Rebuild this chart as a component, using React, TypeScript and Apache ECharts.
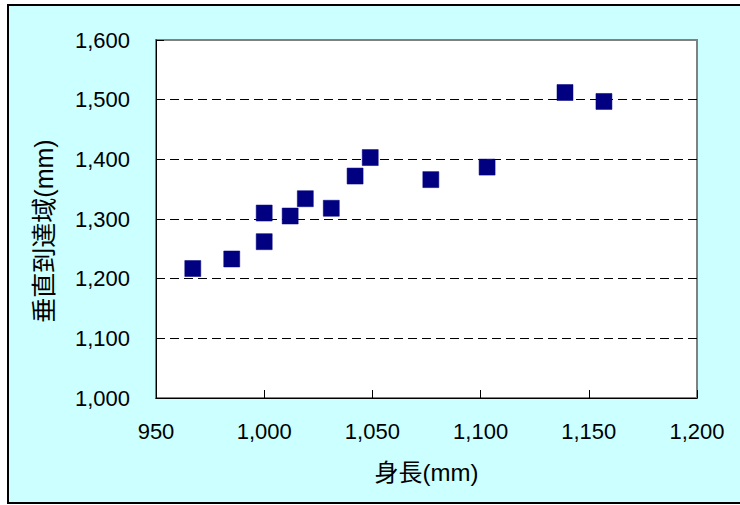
import React, { useEffect, useRef } from "react";
import * as echarts from "echarts";

const heights = [967, 985, 1000, 1000, 1012, 1019, 1031, 1042, 1049, 1077, 1103, 1139, 1157];
const reaches = [1217, 1233, 1310, 1262, 1305, 1334, 1318, 1372, 1403, 1366, 1387, 1512, 1497];
const xName = "身長(mm)";
const yName = "垂直到達域(mm)";

const FONT = "'Liberation Sans', Arial, 'Noto Sans CJK JP', sans-serif";

export default function App() {
  const ref = useRef<HTMLDivElement>(null);
  useEffect(() => {
    if (!ref.current) return;
    const chart = echarts.init(ref.current, undefined, { renderer: "svg" });
    const data = heights.map((h, i) => [h, reaches[i]]);
    const fmt = (v: number) => v.toLocaleString("en-US");
    chart.setOption({
      animation: false,
      graphic: [
        {
          type: "rect",
          z: -100,
          shape: { x: 8, y: 5, width: 740, height: 498 },
          style: { fill: "#CCFFFF", stroke: "#000000", lineWidth: 2 },
          silent: true,
        },
        {
          type: "text",
          x: 44,
          y: 231,
          rotation: Math.PI / 2,
          style: {
            text: yName,
            fill: "#000000",
            font: `25px ${FONT}`,
            align: "center",
            verticalAlign: "middle",
          },
          silent: true,
        },
      ],
      grid: {
        left: 156,
        right: 43,
        top: 40,
        bottom: 107,
        show: true,
        backgroundColor: "#FFFFFF",
        borderColor: "#808080",
        borderWidth: 2,
        containLabel: false,
        outerBoundsMode: "none",
      },
      xAxis: {
        type: "value",
        min: 950,
        max: 1200,
        interval: 50,
        name: xName,
        nameLocation: "middle",
        nameGap: 62,
        nameTextStyle: { fontSize: 24, color: "#000", fontFamily: FONT },
        axisLine: { show: true, lineStyle: { color: "#000", width: 1 } },
        axisTick: { show: true, inside: true, length: 8, lineStyle: { color: "#000" } },
        axisLabel: { margin: 22, fontSize: 22, color: "#000", fontFamily: FONT, formatter: fmt },
        splitLine: { show: false },
      },
      yAxis: {
        type: "value",
        min: 1000,
        max: 1600,
        interval: 100,
        axisLine: { show: true, lineStyle: { color: "#000", width: 1 } },
        axisTick: { show: true, inside: true, length: 8, lineStyle: { color: "#000" } },
        axisLabel: { margin: 26, fontSize: 22, color: "#000", fontFamily: FONT, formatter: fmt },
        splitLine: {
          show: true,
          showMinLine: false,
          showMaxLine: false,
          lineStyle: { color: "#000", width: 1, type: [9, 5] },
        },
      },
      series: [
        {
          type: "scatter",
          data,
          symbol: "rect",
          symbolSize: 16,
          itemStyle: { color: "#000080", borderColor: "#000080", borderWidth: 0.5, opacity: 1 },
        },
      ],
    });
    return () => chart.dispose();
  }, []);
  return (
    <div
      ref={ref}
      style={{ position: "absolute", left: 0, top: 0, width: 740, height: 505 }}
    />
  );
}
